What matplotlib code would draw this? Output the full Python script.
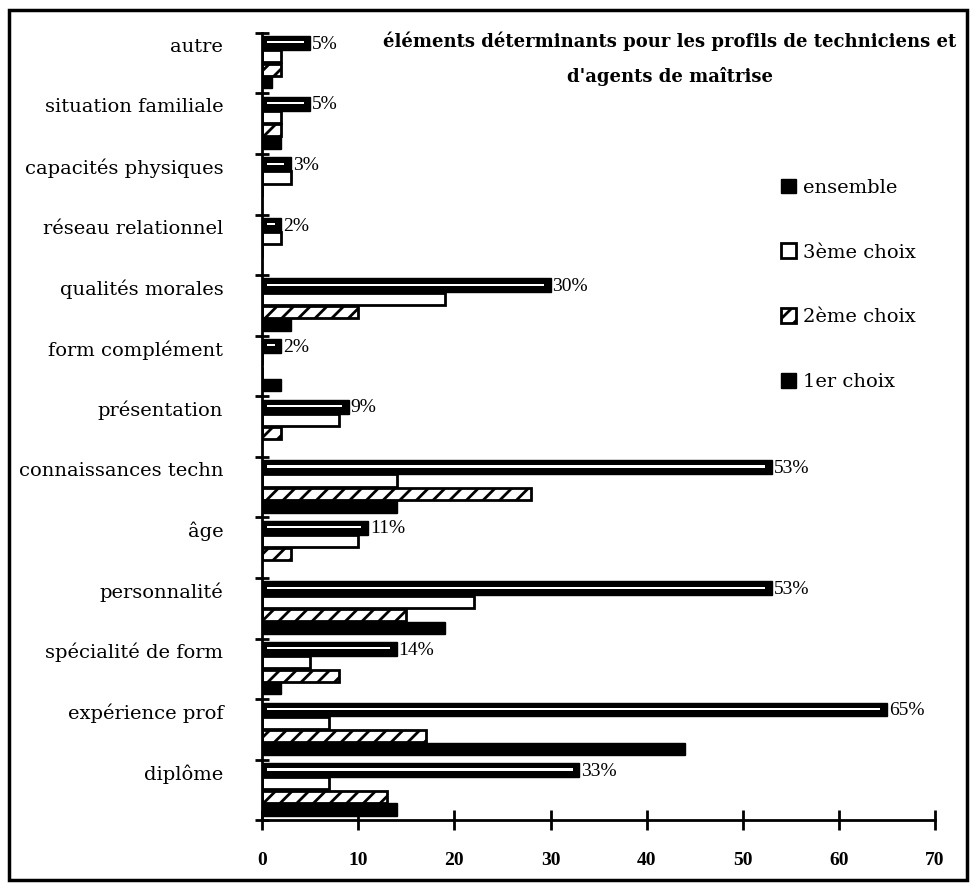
import numpy as np
import matplotlib.pyplot as plt
from matplotlib.patches import Rectangle

plt.rcParams['font.family'] = ['DejaVu Serif', 'Liberation Serif']
plt.rcParams['hatch.linewidth'] = 2.0

categories = ['autre', 'situation familiale', 'capacités physiques', 'réseau relationnel',
              'qualités morales', 'form complément', 'présentation', 'connaissances techn',
              'âge', 'personnalité', 'spécialité de form', 'expérience prof', 'diplôme']

# values (in %)
ensemble = [5, 5, 3, 2, 30, 2, 9, 53, 11, 53, 14, 65, 33]
choix3 = [2, 2, 3, 2, 19, 0, 8, 14, 10, 22, 5, 7, 7]
choix2 = [2, 2, 0, 0, 10, 0, 2, 28, 3, 15, 8, 17, 13]
choix1 = [1, 2, 0, 0, 3, 2, 0, 14, 0, 19, 2, 44, 14]

xticks = [0, 10, 20, 30, 40, 50, 60, 70]

fig = plt.figure(figsize=(9.71, 8.85), dpi=100)
ax = fig.add_axes([0.270, 0.073, 0.693, 0.890])

n = len(categories)
y = np.arange(n)[::-1].astype(float)
h = 0.2

# ensemble on top, then 3eme, 2eme, 1er
ax.barh(y + 0.33, ensemble, height=0.23, color='black', edgecolor='black', lw=1)
# thin white streak inside ensemble bars (scan look)
ax.barh(y + 0.34, np.maximum(np.array(ensemble) - 1.2, 0), left=0.5, height=0.035,
        color='white', lw=0)
ax.barh(y + 0.11, choix3, height=h, color='white', edgecolor='black', lw=2)
ax.barh(y - 0.11, choix2, height=h, color='white', edgecolor='black', lw=2, hatch='//')
ax.barh(y - 0.32, choix1, height=h, color='black', edgecolor='black', lw=1)

for yi, v in zip(y, ensemble):
    ax.text(v + 0.2, yi + 0.31, f'{v}%', va='center', ha='left', fontsize=14,
            family='Liberation Serif')

ax.set_xlim(0, 70)
ax.set_ylim(-0.5, n - 0.5)
ax.set_xticks(xticks)
ax.set_xticklabels([str(t) for t in xticks], fontsize=14, fontweight='bold',
                   family='Liberation Serif')
ax.set_yticks(y + 0.3)
ax.set_yticklabels(categories, fontsize=14)
ax.set_yticks(np.arange(n + 1) - 0.5, minor=True)
ax.tick_params(axis='y', which='major', length=0, pad=28)
ax.tick_params(axis='y', which='minor', length=10, width=2, direction='inout')
ax.tick_params(axis='x', length=14, width=2, direction='inout', pad=16)
for s in ['top', 'right']:
    ax.spines[s].set_visible(False)
for s in ['left', 'bottom']:
    ax.spines[s].set_linewidth(2)

fig.text(0.69, 0.953, "éléments déterminants pour les profils de techniciens et",
         ha='center', va='center', fontsize=13, fontweight='bold')
fig.text(0.69, 0.913, "d'agents de maîtrise",
         ha='center', va='center', fontsize=13, fontweight='bold')

handles = [Rectangle((0, 0), 1, 1, facecolor='black', edgecolor='black'),
           Rectangle((0, 0), 1, 1, facecolor='white', edgecolor='black', lw=2),
           Rectangle((0, 0), 1, 1, facecolor='white', edgecolor='black', lw=2, hatch='//'),
           Rectangle((0, 0), 1, 1, facecolor='black', edgecolor='black')]
labels = ['ensemble', '3ème choix', '2ème choix', '1er choix']
fig.legend(handles, labels, loc='upper left', bbox_to_anchor=(0.786, 0.818),
           frameon=False, fontsize=14, labelspacing=2.4, handlelength=0.8,
           handleheight=0.8, handletextpad=0.35)

fig.patches.append(Rectangle((0.009, 0.006), 0.987, 0.983, transform=fig.transFigure,
                             fill=False, edgecolor='black', lw=2.5))

fig.savefig('out.png', dpi=100)
